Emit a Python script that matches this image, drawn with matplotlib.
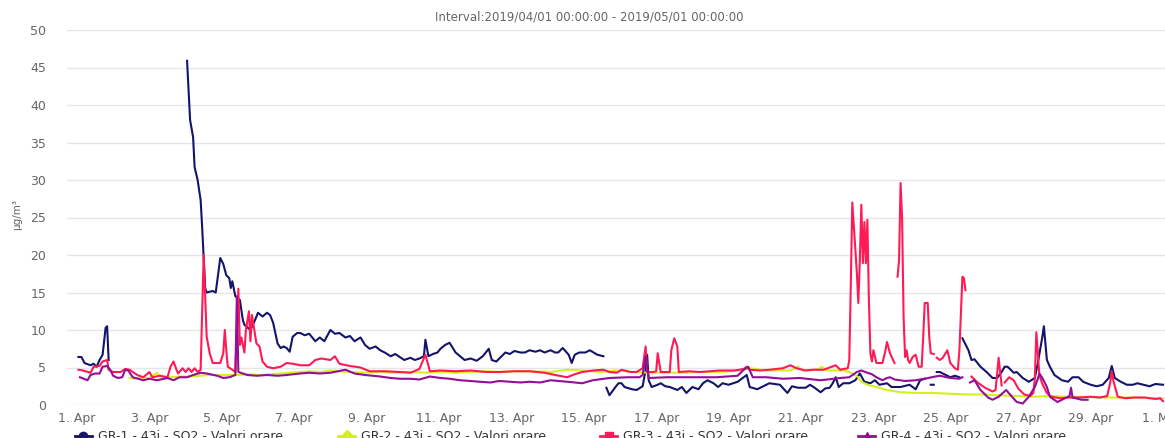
import numpy as np
import matplotlib
matplotlib.use("Agg")
import matplotlib.pyplot as plt
from matplotlib.lines import Line2D

nan = float("nan")

title = "Interval:2019/04/01 00:00:00 - 2019/05/01 00:00:00"
y_label = "µg/m³"
series_names = ["GR-1 - 43i - SO2 - Valori orare", "GR-2 - 43i - SO2 - Valori orare",
                "GR-3 - 43i - SO2 - Valori orare", "GR-4 - 43i - SO2 - Valori orare"]
tick_hours = list(range(0, 721, 48))
tick_labels = ["1. Apr", "3. Apr", "5. Apr", "7. Apr", "9. Apr", "11. Apr", "13. Apr", "15. Apr",
               "17. Apr", "19. Apr", "21. Apr", "23. Apr", "25. Apr", "27. Apr", "29. Apr", "1. May"]

# hours since 2019-04-01 00:00, values in ug/m3
gr1_h = [1, 3, 5, 9, 11, 13, 15, 17, 19, 20, 21, 22,
         73, 75, 77, 78, 80, 82, 83, 84, 85, 86, 90, 92, 95, 97, 99, 101, 102, 103, 105, 108, 110, 111,
         115, 118, 120, 123, 126, 128, 130, 133, 135, 137, 139, 141, 143, 146, 148, 151, 154, 158, 161,
         164, 168, 171, 174, 178, 181, 184, 188, 191, 194, 198, 201, 204, 208, 211, 214, 217, 221, 224,
         227, 230, 231, 233, 236, 239, 241, 244, 247, 251, 254, 257, 261, 265, 269, 273, 275, 278, 280,
         284, 287, 290, 294, 297, 300, 304, 307, 310, 314, 317, 319, 322, 326, 328, 330, 333, 337, 340,
         345, 349, 350,
         351, 353, 357, 359, 361, 363, 368, 371, 375, 377, 378, 379, 381, 385, 387, 390, 393, 398, 401,
         404, 408, 412, 415, 418, 422, 425, 428, 432, 435, 438, 442, 444, 446, 451, 455, 459, 466, 471,
         474, 478, 483, 486, 489, 493, 496, 499, 501, 503, 505, 508, 512, 516, 519, 522, 526, 529, 532,
         537, 540, 546, 552, 556, 559, 562, 563, 566, 568, 569, 570, 572, 575, 579, 582, 585, 586,
         587, 591, 593, 595, 599, 603, 607, 610, 613, 615, 617, 621, 623, 627, 631, 635, 637, 640, 641,
         643, 645, 648, 653, 657, 660, 664, 667, 672, 676, 680, 684, 686, 688, 692, 696, 700, 703, 707,
         711, 715, 720]
gr1_v = [6.4, 6.4, 5.6, 5.3, 5.5, 5.1, 6.0, 6.7, 10.3, 10.5, 6.0, nan,
         45.9, 38.0, 35.7, 31.7, 30.0, 27.3, 23.7, 19.7, 15.6, 15.0, 15.2, 15.0, 19.6, 18.8, 17.3, 16.9,
         15.6, 16.5, 14.5, 14.0, 11.3, 10.7,
         10.0, 11.3, 12.3, 11.8, 12.3, 12.0, 11.0, 8.2, 7.6, 7.8, 7.6, 7.1, 9.1, 9.6, 9.6, 9.3, 9.5, 8.5,
         9.0, 8.5, 10.0, 9.5, 9.6, 9.0, 9.2, 8.5, 9.0, 8.0, 7.5, 7.8, 7.3, 7.0, 6.5, 6.8, 6.4, 6.0, 6.3,
         6.0, 6.2, 6.5, 8.7, 6.5, 6.8, 7.0, 7.5, 8.0, 8.3, 7.0, 6.5, 6.0, 6.2, 5.9, 6.5, 7.5, 6.0, 5.8,
         6.2, 7.0, 6.8, 7.2, 7.0, 7.0, 7.3, 7.1, 7.3, 7.0, 7.3, 7.0, 7.0, 7.6, 6.7, 5.6, 6.7, 7.0, 7.0,
         7.3, 6.7, 6.5, nan,
         2.3, 1.3, 2.4, 2.9, 2.9, 2.4, 2.1, 2.0, 2.5, 4.7, 6.7, 3.3, 2.4, 2.7, 2.9, 2.5, 2.4, 2.0, 2.4,
         1.6, 2.4, 2.1, 2.9, 3.3, 2.9, 2.4, 2.9, 2.7, 2.9, 3.1, 3.7, 4.0, 2.4, 2.1, 2.5, 2.9, 2.7, 1.6,
         2.5, 2.3, 2.3, 2.7, 2.3, 1.7, 2.2, 2.3, 2.9, 3.7, 2.4, 2.9, 2.9, 3.3, 4.2, 3.1, 2.9, 3.3, 2.7,
         2.9, 2.4, 2.4, 2.7, 2.1, 3.3, 3.5, nan, 2.7, 2.7, nan, 4.4, 4.4, 4.1, 3.7, 3.9, 3.7, nan,
         8.9, 7.3, 6.0, 6.1, 5.1, 4.4, 3.6, 3.6, 4.4, 5.1, 5.1, 4.3, 4.4, 3.6, 3.1, 3.6, 5.6, 9.1, 10.5,
         6.0, 5.1, 4.0, 3.3, 3.1, 3.7, 3.7, 3.1, 2.7, 2.5, 2.7, 3.6, 5.2, 3.6, 3.1, 2.7, 2.7, 2.9, 2.7,
         2.5, 2.8, 2.7]

gr2_h = [35, 38, 42, 48, 53, 55, 62, 68, 75, 82, 88, 95, 101, 108, 115, 121, 128, 135, 141, 148, 154,
         161, 168, 174, 181, 191, 201, 211, 221, 231, 241, 251, 261, 271, 280, 290, 300, 314, 325, 335,
         347, 358, 369, 380, 391, 402, 413, 424, 433, 442, 446, 457, 473, 478, 481, 491, 494, 497, 508,
         512, 518, 520, 524, 530, 537, 546, 557, 568, 579, 590, 601, 612, 623, 634, 645, 656, 667, 678,
         690, 700, 711, 720]
gr2_v = [3.6, 3.5, 3.7, 3.6, 4.3, 3.8, 3.7, 3.8, 3.8, 3.9, 4.0, 4.0, 4.0, 4.0, 4.1, 4.0, 4.1, 4.2, 4.3,
         4.4, 4.5, 4.4, 4.6, 4.5, 4.4, 4.3, 4.4, 4.3, 4.4, 4.3, 4.4, 4.3, 4.4, 4.5, 4.4, 4.5, 4.5, 4.4,
         4.7, 4.6, 4.4, 4.6, 4.4, 4.3, 4.3, 4.3, 4.4, 4.4, 4.5, 4.7, 4.9, 4.6, 4.6, 5.1, 4.6, 4.7, 5.1,
         4.6, 4.6, 4.4, 3.7, 3.1, 2.7, 2.4, 2.0, 1.7, 1.6, 1.6, 1.5, 1.4, 1.4, 1.3, 1.2, 1.1, 1.2, 1.1,
         1.1, 1.0, 1.0, 1.0, 0.9, 0.9]

gr3_h = [1, 4, 9, 11, 15, 17, 20, 21, 24, 29, 32, 35, 37, 40, 44, 48, 50, 55, 60, 62, 64, 66, 67, 70,
         72, 74, 76, 78, 80, 82, 84, 86, 88, 90, 95, 97, 98, 99, 100, 103, 105, 107, 108, 109, 111, 112,
         114, 115, 116, 118, 119, 121, 123, 126, 130, 135, 139, 143, 148, 154, 158, 162, 168, 171, 174,
         181, 188, 194, 204, 214, 221, 227, 231, 234, 241, 251, 261, 271, 280, 290, 300, 310, 317, 325,
         330, 335, 342, 349, 353, 358, 361, 367, 371, 375, 377, 378, 382, 384, 385, 387, 393, 394, 396,
         398, 399, 406, 413, 420, 426, 436, 442, 444, 446, 453, 459, 468, 473, 477, 483, 488, 495, 503,
         506, 511, 512, 513, 514, 516, 517, 518, 519, 520, 521, 522, 523, 524, 525, 526, 527, 528, 530,
         534, 536, 537, 539, 542, 543, 544, 545, 546, 547, 548, 549, 550, 551, 552, 554, 556, 558, 560,
         561, 562, 564, 565, 566, 568, 569, 570, 572, 574, 577, 579, 582, 584, 585, 587, 588, 589, 590,
         593, 597, 602, 607, 609, 611, 613, 614, 615, 618, 621, 624, 628, 632, 634, 635, 636, 637, 638,
         640, 643, 646, 652, 658, 665, 672, 678, 683, 685, 686, 687, 690, 695, 701, 708, 715, 718, 720]
gr3_v = [4.7, 4.6, 4.3, 5.1, 5.2, 5.8, 6.0, 4.7, 4.4, 4.4, 4.8, 4.7, 4.4, 4.0, 3.7, 4.4, 3.7, 3.9, 3.7,
         5.1, 5.8, 4.7, 4.2, 4.9, 4.4, 4.9, 4.4, 4.9, 4.4, 4.7, 20.0, 9.1, 6.9, 5.6, 5.6, 6.9, 10.0, 7.3,
         5.1, 4.7, 4.4, 15.5, 8.0, 9.0, 7.0, 10.0, 12.5, 8.5, 12.0, 9.5, 8.2, 7.8, 5.8, 5.1, 4.9, 5.1,
         5.6, 5.5, 5.3, 5.3, 6.0, 6.2, 6.0, 6.5, 5.5, 5.2, 5.0, 4.5, 4.5, 4.4, 4.3, 4.8, 6.7, 4.5, 4.6,
         4.5, 4.6, 4.4, 4.4, 4.5, 4.5, 4.3, 4.0, 3.7, 4.1, 4.4, 4.6, 4.7, 4.4, 4.3, 4.7, 4.4, 4.4, 4.9,
         7.8, 4.4, 4.4, 4.5, 6.9, 4.4, 4.4, 7.3, 8.9, 7.8, 4.4, 4.5, 4.4, 4.5, 4.6, 4.6, 4.8, 5.1, 4.7,
         4.6, 4.7, 4.9, 5.3, 4.9, 4.6, 4.7, 4.7, 5.3, 4.7, 4.9, 6.0, 16.0, 27.0, 20.7, 17.7, 13.6, 19.3,
         26.7, 18.9, 24.4, 18.9, 24.7, 14.0, 6.9, 5.8, 7.3, 5.6, 5.6, 7.3, 8.4, 6.9, 5.6, nan, 17.1,
         19.3, 29.6, 25.0, 11.7, 6.4, 7.3, 6.0, 5.6, 6.4, 6.7, 5.1, 5.1, 9.1, 13.6, 13.6, 9.1, 6.9, 6.8,
         nan, 6.3, 6.0, 6.3, 7.3, 5.6, 4.9, 4.7, 7.3, 17.1, 16.9, 15.3, nan,
         3.8, 3.0, 2.3, 1.8, 2.0, 6.3, 2.6, nan, 3.0, 3.7, 3.3, 2.2, 1.4, 1.2, 1.6, 3.5, 9.7, 7.0, 4.0,
         2.8, 1.6, 1.1, 0.9, 1.0, 1.0, 1.1, 1.0, 1.2, 3.0, 4.5, 3.3, 1.1, 0.9, 1.0, 1.0, 0.8, 0.9, 0.5]

gr4_h = [2, 7, 9, 12, 15, 17, 20, 22, 24, 27, 30, 32, 34, 37, 44, 48, 53, 60, 64, 68, 73, 77, 82, 86,
         93, 97, 101, 105, 106, 107, 113, 119, 126, 133, 139, 148, 154, 161, 168, 178, 184, 191, 201,
         208, 214, 221, 227, 234, 241, 247, 254, 261, 267, 274, 280, 287, 294, 300, 307, 314, 325, 335,
         342, 353, 365, 373, 375, 377, 379, 391, 402, 413, 424, 438, 442, 445, 448, 457, 468, 479, 493,
         506, 512, 517, 520, 524, 527, 530, 534, 537, 539, 542, 549, 556, 562, 569, 572, 579, 585, 587,
         588, 592, 595, 599, 601, 604, 607, 611, 616, 619, 623, 627, 631, 635, 637, 638, 640, 643, 645,
         650, 655, 658, 659, 660, 666, 670]
gr4_v = [3.7, 3.3, 4.0, 4.2, 4.2, 5.1, 5.2, 4.7, 3.9, 3.6, 3.7, 4.7, 4.6, 3.7, 3.3, 3.5, 3.3, 3.6,
         3.3, 3.7, 3.7, 4.0, 4.3, 4.2, 3.9, 3.6, 3.7, 4.0, 14.5, 4.4, 4.0, 3.9, 4.0, 3.9, 4.0, 4.2, 4.3,
         4.2, 4.3, 4.7, 4.2, 4.0, 3.8, 3.6, 3.5, 3.5, 3.4, 3.8, 3.6, 3.5, 3.3, 3.2, 3.1, 3.0, 3.2, 3.1,
         3.0, 3.1, 3.0, 3.3, 3.1, 2.9, 3.3, 3.6, 3.7, 3.7, 4.0, 6.5, 3.6, 3.7, 3.7, 3.7, 3.7, 3.9, 4.7,
         5.1, 3.7, 3.7, 3.5, 3.6, 3.3, 3.6, 3.7, 4.4, 4.6, 4.3, 4.1, 3.7, 3.3, 3.6, 3.7, 3.4, 3.2, 3.3,
         3.5, 3.8, 3.9, 3.6, 3.5, 3.7, nan, 3.0, 3.3, 2.0, 1.6, 1.0, 0.7, 1.1, 2.0, 1.3, 0.4, 0.2, 1.1,
         2.4, 3.5, 4.2, 3.6, 2.4, 1.1, 0.4, 0.9, 1.2, 2.3, 1.0, 0.7, 0.7]

colors = ["#14146b", "#d4f01e", "#ff1a55", "#930f93"]
markers = ["o", "D", "s", "^"]

W, H = 1165, 438
fig = plt.figure(figsize=(W / 100, H / 100), dpi=100)
ax = fig.add_axes([67 / W, (H - 405) / H, (W - 67) / W, 375 / H])

ax.plot(gr1_h, gr1_v, color=colors[0], lw=1.5, zorder=3)
ax.plot(gr2_h, gr2_v, color=colors[1], lw=1.5, zorder=4)
ax.plot(gr3_h, gr3_v, color=colors[2], lw=1.5, zorder=5)
ax.plot(gr4_h, gr4_v, color=colors[3], lw=1.5, zorder=6)

ax.set_xlim(-6.6, 721.3)
ax.set_ylim(0, 50)
ax.set_yticks(range(0, 51, 5))
ax.set_xticks(tick_hours)
ax.set_xticklabels(tick_labels)
ax.grid(axis="y", color="#e6e6e6", lw=1)
ax.set_axisbelow(True)
for s in ax.spines.values():
    s.set_visible(False)
ax.tick_params(axis="both", length=0, colors="#666666", labelsize=9)
ax.tick_params(axis="y", pad=15)
ax.tick_params(axis="x", pad=5)

fig.text(589 / W, 1 - 17 / H, title, ha="center", va="center", fontsize=8.5, color="#666666")
fig.text(17 / W, 1 - 215 / H, y_label, ha="center", va="center", rotation=90, fontsize=7.5,
         color="#666666")

leg_x = [75, 338, 600, 858]
for i, name in enumerate(series_names):
    x0 = leg_x[i]
    yy = 1 - 436 / H
    fig.add_artist(Line2D([x0 / W, (x0 + 17) / W], [yy, yy], transform=fig.transFigure,
                          color=colors[i], lw=2))
    fig.add_artist(Line2D([(x0 + 8.5) / W], [yy], transform=fig.transFigure, color=colors[i],
                          marker=markers[i], markersize=6, lw=0))
    fig.text((x0 + 23) / W, yy, name, ha="left", va="center", fontsize=9, color="#333333")

fig.savefig("out.png", dpi=100)
